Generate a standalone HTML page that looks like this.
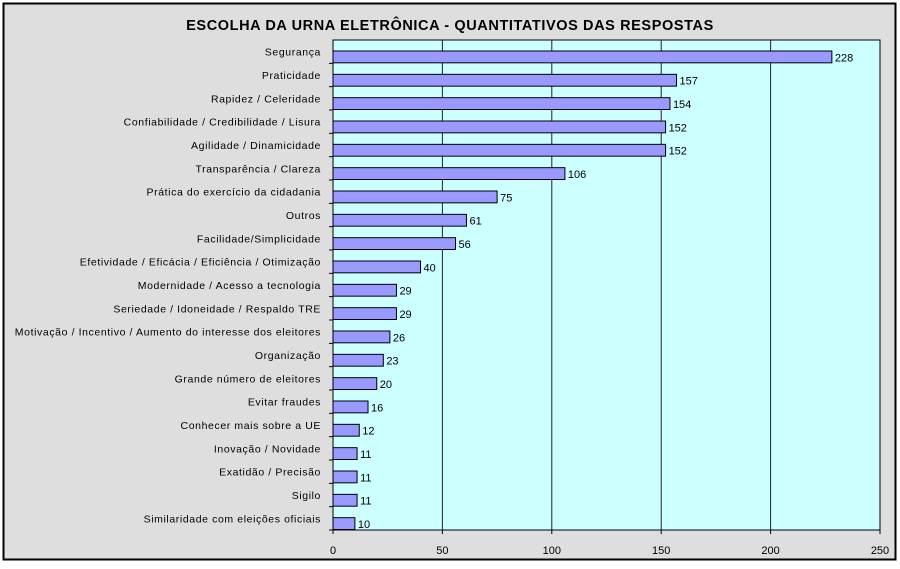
<!DOCTYPE html>
<html><head><meta charset="utf-8"><style>
body{margin:0;background:#fff;}
svg text{font-family:"Liberation Sans",sans-serif;}
</style></head><body>
<svg id="c" width="900" height="564" xmlns="http://www.w3.org/2000/svg">
<rect x="3.5" y="3.5" width="892" height="556" fill="#dedede" stroke="#000" stroke-width="2"/>
<text x="450" y="30" text-anchor="middle" font-size="14.5" font-weight="bold" letter-spacing="0.6">ESCOLHA DA URNA ELETRÔNICA - QUANTITATIVOS DAS RESPOSTAS</text>
<rect x="333" y="40" width="547" height="490" fill="#ccffff" stroke="#000" stroke-width="1"/>
<g id="grid"></g><g id="bars"></g><g id="labels"></g>
</svg>
<script>
const categories=["Segurança","Praticidade","Rapidez / Celeridade","Confiabilidade / Credibilidade / Lisura","Agilidade / Dinamicidade","Transparência / Clareza","Prática do exercício da cidadania","Outros","Facilidade/Simplicidade","Efetividade / Eficácia / Eficiência / Otimização","Modernidade / Acesso a tecnologia","Seriedade / Idoneidade / Respaldo TRE","Motivação / Incentivo / Aumento do interesse dos eleitores","Organização","Grande número de eleitores","Evitar fraudes","Conhecer mais sobre a UE","Inovação / Novidade","Exatidão / Precisão","Sigilo","Similaridade com eleições oficiais"];
const values=[228,157,154,152,152,106,75,61,56,40,29,29,26,23,20,16,12,11,11,11,10];
const ticks=[0,50,100,150,200,250];
const NS="http://www.w3.org/2000/svg";
const x0=333,x1=880,y0=40,y1=530,maxV=250;
const xs=v=>x0+(x1-x0)*v/maxV;
const band=(y1-y0)/categories.length;
function mk(t,a,p){const e=document.createElementNS(NS,t);for(const k in a)e.setAttribute(k,a[k]);p.appendChild(e);return e;}
const g=document.getElementById('grid'),b=document.getElementById('bars'),l=document.getElementById('labels');
ticks.forEach(t=>{
  if(t>0&&t<maxV){const ln=mk('line',{x1:xs(t),x2:xs(t),y1:y0,y2:y1,stroke:'#222','stroke-width':1},g);
  
  }
  const tk=mk('line',{x1:xs(t),x2:xs(t),y1:y1,y2:y1+4,stroke:'#000'},g);
  
  
  const tx=mk('text',{x:xs(t),y:y1+24,'text-anchor':'middle','font-size':11},g);tx.textContent=t;
  
  
});
categories.forEach((c,i)=>{
  const top=y0+band*i;
  const tk=mk('line',{x1:x0-4,x2:x0,y1:top+band,y2:top+band,stroke:'#000'},g);
  
  
  const r=mk('rect',{x:x0,y:top+11,width:xs(values[i])-x0,height:band-11.5,fill:'#9999ff',stroke:'#000','stroke-width':1},b);
  
  
  const vt=mk('text',{x:xs(values[i])+3,y:top+band-2,'font-size':11},l);vt.textContent=values[i];
  
  
  const ct=mk('text',{x:x0-12,y:top+band/2+4,'text-anchor':'end','font-size':10.5,'letter-spacing':'0.6'},l);ct.textContent=c;
  
  
});
</script>
</body></html>
